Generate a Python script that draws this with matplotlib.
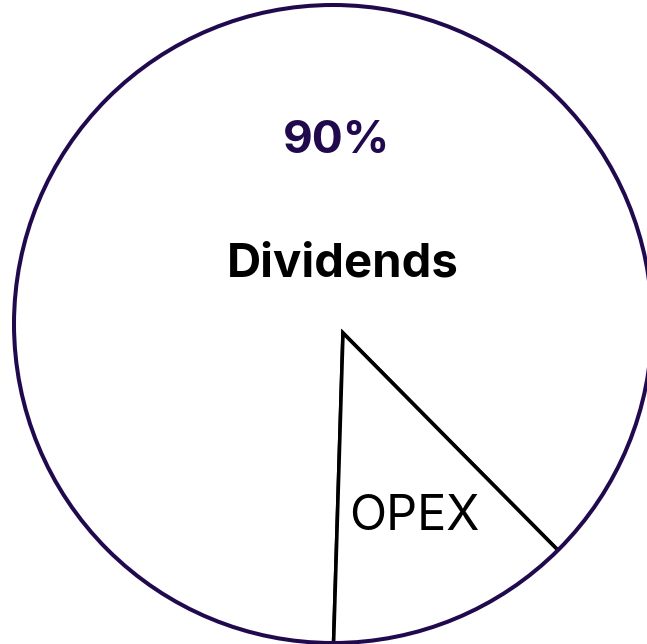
import matplotlib
matplotlib.use("Agg")
import matplotlib.pyplot as plt
from matplotlib.patches import Circle

categories = ["Dividends", "OPEX"]
shares = [87.1, 12.9]
category_labels = ["Dividends", "OPEX"]
percent_labels = ["90%", ""]

W, H = 647, 644
fig = plt.figure(figsize=(W / 100, H / 100), dpi=100)
ax = fig.add_axes([0, 0, 1, 1])
ax.set_axis_off()

R = 319.0
cx, cy = 333.0, 324.0


def px(x, y):
    return (x - cx) / R, (cy - y) / R


purple = "#21094e"

outline = Circle((0, 0), 1.0, facecolor="white", edgecolor="none", zorder=1)
ax.add_patch(outline)

apex = px(343, 333)
wedges, _ = ax.pie(
    shares,
    startangle=-45.3,
    counterclock=True,
    radius=1.2,
    center=apex,
    colors=["white", "white"],
    wedgeprops=dict(edgecolor="black", linewidth=2.6),
    frame=True,
)
for w in wedges:
    w.set_clip_on(True)
    w.set_clip_path(outline)
    w.set_zorder(2)

ax.add_patch(Circle((0, 0), 1.0, facecolor="none", edgecolor=purple,
                    linewidth=2.9, zorder=3))

ax.set_xlim(px(0, 0)[0], px(W, 0)[0])
ax.set_ylim(px(0, H)[1], px(0, 0)[1])
ax.set_aspect("equal")
ax.set_axis_off()

ax.text(*px(336.5, 153), percent_labels[0], ha="center", va="baseline",
        fontsize=33, fontweight="bold", color=purple, family="Inter", zorder=4)
ax.text(*px(343, 277), category_labels[0], ha="center", va="baseline",
        fontsize=34, fontweight="bold", color="black", family="Inter", zorder=4)
ax.text(*px(414.5, 530), category_labels[1], ha="center", va="baseline",
        fontsize=35, fontweight="normal", color="black", family="Inter", zorder=4)

fig.savefig("out.png", dpi=100)
